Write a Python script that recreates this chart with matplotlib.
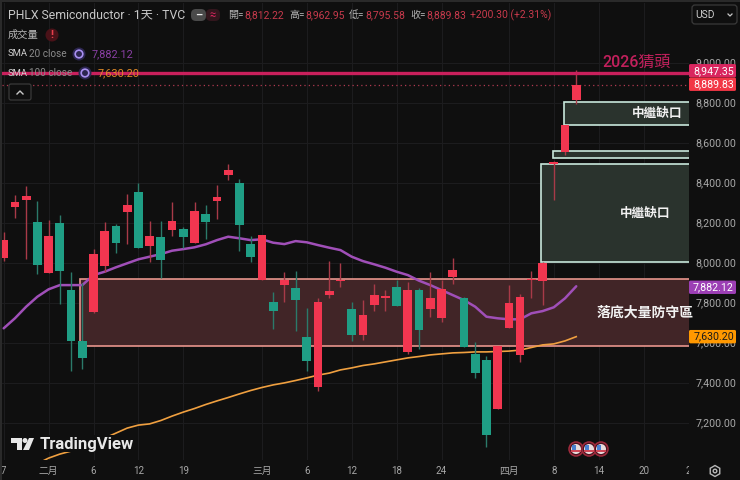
import matplotlib
matplotlib.use("Agg")
import matplotlib.pyplot as plt
from matplotlib.patches import Rectangle, Circle, Polygon, FancyBboxPatch, RegularPolygon
from matplotlib.transforms import Bbox

BG = "#0f0f0f"
UP = "#f23650"
DOWN = "#1f9e85"
GRID = "#1c1c1e"
plt.rcParams["font.family"] = ["Roboto", "Noto Sans CJK TC", "DejaVu Sans"]

# ---------- data ----------
opens = [8021.8, 8280, 8312, 8202, 7947, 8197, 7862, 7610, 7753.5, 7982, 8185, 8255, 8355, 8083.5,
         8130, 8162, 8168.5, 8098, 8243.5, 8307, 8437, 8398.5, 8095, 7913.5, 7802, 7887, 7872, 7627,
         7380, 7838.5, 7910, 7767, 7638.5, 7790, 7822, 7880, 7555, 7862, 7767, 7723.5, 7927, 7822,
         7542, 7513.5, 7270, 7673.5, 7537, 7912, 7910, 8492, 8553.5, 8812.22]
closes = [8113.5, 8305, 8335, 7990, 8132, 7958, 7610, 7523.5, 8045, 8158.5, 8100, 8287, 8075, 8133.5,
          8013.5, 8210, 8127, 8257, 8205, 8327, 8463.5, 8190, 8030, 8137, 7760, 7912, 7815, 7510,
          7805, 7860, 7913.5, 7637, 7738.5, 7840, 7832, 7785, 7862, 7665, 7822, 7868.5, 7963.5, 7580,
          7450, 7137, 7583, 7797, 7830, 7917, 8000, 8505, 8687, 8889.83]
highs = [8155, 8338.5, 8383.5, 8308.5, 8213.5, 8237, 7952, 7897, 8070, 8205, 8193.5, 8343.5, 8397, 8208.5,
         8208.5, 8302, 8177, 8305, 8288.5, 8388.5, 8493.5, 8418.5, 8133.5, 8137, 7852, 7952, 7960, 7772,
         7822, 8010, 7997, 7802, 7813.5, 7892, 7863.5, 7913.5, 7905, 7872, 7952, 7913.5, 8022, 7830,
         7605, 7533.5, 7583, 7888.5, 7842, 7958, 8002, 8508, 8690, 8962.95]
lows = [8008.5, 8222, 8018.5, 7943.5, 7947, 7793.5, 7458.5, 7468.5, 7747, 7955, 8050, 8093.5, 8075, 8005,
        7922, 8133.5, 8072, 8098, 8118.5, 8218.5, 8413.5, 8057, 8005, 7913.5, 7670, 7805, 7658.5, 7460,
        7360, 7825, 7877, 7610, 7613.5, 7760, 7760, 7785, 7543, 7568.5, 7730, 7705, 7893.5, 7580,
        7425, 7080, 7270, 7673.5, 7502, 7822, 7788.5, 8313.5, 8538.5, 8795.58]
sma20 = [7672, 7722, 7780, 7830, 7867, 7888, 7888, 7888, 7938, 7955, 7977, 7997, 8017, 8030, 8043, 8060,
         8068, 8077, 8092, 8113, 8130, 8122, 8113, 8117, 8100, 8093, 8108, 8102, 8088, 8075, 8063, 8030,
         8008, 7992, 7975, 7955, 7938, 7910, 7888, 7863, 7838, 7813, 7780, 7730, 7722, 7717, 7717, 7747,
         7758, 7777, 7822, 7882.12]
sma100_start = 3
sma100 = [6995, 7023, 7043, 7058, 7078, 7103, 7123, 7148, 7173, 7188, 7194, 7211, 7233, 7253, 7271, 7291,
          7309, 7326, 7344, 7361, 7376, 7389, 7399, 7411, 7424, 7438, 7448, 7464, 7474, 7486, 7494, 7504,
          7514, 7524, 7531, 7539, 7544, 7549, 7551, 7554, 7554, 7556, 7558, 7563, 7576, 7589, 7594, 7609,
          7630.20]

y_ticks = [7200, 7400, 7600, 7800, 8000, 8200, 8400, 8600, 8800, 9000]
x_tick_pos = [0, 4, 8, 12, 16, 23, 27, 31, 35, 39, 45, 49, 53, 57, 61]
x_tick_lab = ["7", "二月", "6", "12", "19", "三月", "6", "12", "18", "24", "四月", "8", "14", "20", "2"]

support_zone = (7585, 7917)
gap_zones = [(8003, 8492), (8522, 8557), (8687, 8802)]
zone_starts = [6.81, 47.88, 48.93, 49.87]
resist = 8947.35
last = 8889.83
tags = [(8947.35, "8,947.35", "#d9265f", -2.5), (8889.83, "8,889.83", "#f23645", -0.5),
        (7882.12, "7,882.12", "#9c3fb5", 1), (7630.20, "7,630.20", "#ff9800", 0)]

# ---------- figure ----------
W, H = 740, 480
fig = plt.figure(figsize=(W / 100, H / 100), dpi=100, facecolor=BG)
L, R, T, B = 2, 688.5, 3, 460
ax = fig.add_axes([L / W, 1 - B / H, (R - L) / W, (B - T) / H], facecolor=BG)
ax.set_xlim((L - 3.7) / 11.27, (R - 3.7) / 11.27)
ax.set_ylim(8000 + (262.7 - B) * 5, 8000 + (262.7 - T) * 5)
for s in ax.spines.values():
    s.set_visible(False)
ax.yaxis.tick_right()
ax.set_yticks(y_ticks)
ax.set_yticklabels([f"{v:,.2f}" for v in y_ticks])
ax.set_xticks(x_tick_pos)
ax.set_xticklabels(x_tick_lab)
ax.tick_params(axis="both", length=0, labelcolor="#a8a8a8")
ax.tick_params(axis="y", pad=4.8, labelsize=7.7)
ax.tick_params(axis="x", pad=4.5, labelsize=7.0)
for lab in ax.get_xticklabels():
    lab.set_clip_on(True)
    lab.set_clip_box(Bbox([[0, 0], [688.5, 480]]))
ax.grid(True, color=GRID, lw=0.8, zorder=0)
ax.set_axisbelow(True)

# zones
xmax = ax.get_xlim()[1]
ax.add_patch(Rectangle((zone_starts[0], support_zone[0]), xmax - zone_starts[0] + 1, support_zone[1] - support_zone[0],
                       fc="#412527", ec="#e8958c", lw=1.2, zorder=1))
for (lo, hi), st in zip(gap_zones, zone_starts[1:]):
    ax.add_patch(Rectangle((st, lo), xmax - st + 1, hi - lo, fc="#2a332d", ec="#c8e8dc", lw=1.2, zorder=1))

# lines
xs = list(range(len(sma20)))
ax.plot(xs, sma20, color="#a04fb8", lw=1.8, zorder=3, solid_capstyle="round")
ax.plot(range(sma100_start, sma100_start + len(sma100)), sma100, color="#f0a040", lw=1.2, zorder=3)

# candles
for i, (o, h, l, c) in enumerate(zip(opens, highs, lows, closes)):
    col = UP if c >= o else DOWN
    wick = "#a83a48" if c >= o else "#2b7a6a"
    ax.plot([i, i], [l, h], color=wick, lw=1.0, zorder=4, solid_capstyle="butt")
    ax.add_patch(Rectangle((i - 0.39, min(o, c)), 0.78, abs(c - o), fc=col, ec="none", zorder=5))

# horizontal levels
ax.axhline(resist, color="#c9205c", lw=2.4, zorder=6)
ax.axhline(last, color="#b03a50", lw=0.9, ls=(0, (1, 2.5)), zorder=2)

# overlay in pixel coordinates for chart furniture
ov = fig.add_axes([0, 0, 1, 1], facecolor="none")
ov.set_xlim(0, W)
ov.set_ylim(H, 0)
ov.axis("off")

# edge strips
ov.add_patch(Rectangle((0, 0), 2, 480, fc="#2a2a2a", ec="none"))
ov.add_patch(Rectangle((0, 0), 740, 2, fc="#2a2a2a", ec="none"))

# annotations
ov.text(636.5, 62.3, "2026猜頭", color="#c2205c", fontsize=11.5, fontweight="medium", ha="center", va="center")
ov.text(657, 113.7, "中繼缺口", color="#f2f2f2", fontsize=9.1, fontweight="bold", ha="center", va="center")
ov.text(645.5, 213.3, "中繼缺口", color="#f2f2f2", fontsize=9.1, fontweight="bold", ha="center", va="center")
ov.text(596.5, 313, "落底大量防守區", color="#f2f2f2", fontsize=10, fontweight="bold", ha="left", va="center",
        clip_on=True, clip_box=Bbox([[0, 0], [688.5, 480]]))

# price tags
for v, s, col, dy in tags:
    y = H - ax.transData.transform((0, v))[1] + dy
    ov.add_patch(FancyBboxPatch((689, y - 6.7), 47, 13.4, boxstyle="round,pad=0,rounding_size=1.5", fc=col, ec="none", zorder=8))
    ov.text(713.5, y, s, color="white" if col != "#ff9800" else "#1a1a1a", fontsize=7.7, ha="center", va="center", zorder=9)

# header
ov.text(8, 15, "PHLX Semiconductor · 1天 · TVC", color="#c8c8c8", fontsize=8.8, va="center")
ov.add_patch(FancyBboxPatch((191, 9), 15, 12, boxstyle="round,pad=0,rounding_size=5", fc="#4a4a4a", ec="none"))
ov.add_patch(FancyBboxPatch((206, 9), 14, 12, boxstyle="round,pad=0,rounding_size=5", fc="#33161d", ec="none"))
ov.text(198.5, 15, "–", color="#e8e8e8", fontsize=8, fontweight="bold", ha="center", va="center")
ov.text(213, 15, "≈", color="#d9265f", fontsize=8, ha="center", va="center")
ohlc = [(228, "開=", "8,812.22"), (289, "高=", "8,962.95"), (349, "低=", "8,795.58"), (410, "收=", "8,889.83")]
for x, a, b in ohlc:
    ov.text(x, 15, a, color="#b4b4b4", fontsize=7.2, va="center")
    ov.text(x + 16, 15, b, color="#c83a4c", fontsize=7.5, va="center")
ov.text(470.5, 15, "+200.30 (+2.31%)", color="#c83a4c", fontsize=7.5, va="center")

ov.text(8, 35, "成交量", color="#b8b8b8", fontsize=7.4, va="center")
ov.add_patch(Circle((52, 35), 6.5, fc="#4a1218", ec="none"))
ov.text(52, 35, "!", color="#e8404c", fontsize=8, fontweight="bold", ha="center", va="center")
ov.text(8, 54, "SMA", color="#d0d0d0", fontsize=6.8, va="center")
ov.text(29, 54, "20 close", color="#8c8c8c", fontsize=7.2, va="center")
ov.add_patch(Circle((79, 54), 6.5, fc="#2c2650", ec="none"))
ov.add_patch(Circle((79, 54), 3.8, fc="none", ec="#a88ff0", lw=1.2))
ov.text(92, 54, "7,882.12", color="#8a3fa5", fontsize=7.8, va="center")
ov.text(8, 73, "SMA", color="#d0d0d0", fontsize=6.8, va="center", zorder=7)
ov.text(29, 73, "100 close", color="#8c8c8c", fontsize=7.2, va="center", zorder=7)
ov.add_patch(Circle((85, 73), 6.5, fc="#2c2650", ec="none", zorder=7))
ov.add_patch(Circle((85, 73), 3.8, fc="none", ec="#a88ff0", lw=1.2, zorder=7))
ov.text(98, 73, "7,630.20", color="#e08a28", fontsize=7.8, va="center", zorder=7)

# collapse button
ov.add_patch(FancyBboxPatch((9, 84), 22, 16, boxstyle="round,pad=0,rounding_size=2", fc=BG, ec="#3a3a3a", lw=0.9))
ov.plot([17, 20, 23], [94, 91, 94], color="#c8c8c8", lw=1)

# USD button
ov.add_patch(FancyBboxPatch((692, 5), 45, 19, boxstyle="round,pad=0,rounding_size=3", fc=BG, ec="#3a3a3a", lw=0.9))
ov.text(695, 14.5, "USD", color="#d0d0d0", fontsize=7.4, va="center")
ov.plot([728, 730, 732], [14, 16, 14], color="#c8c8c8", lw=0.9)

# logo
ov.add_patch(Rectangle((9, 435), 128, 17, fc=BG, ec="none", zorder=6))
ov.add_patch(Polygon([(11, 438), (22, 438), (22, 450), (17, 450), (17, 443), (11, 443)], fc="#e8e8e8", ec="none", zorder=7))
ov.add_patch(Circle((25, 440.5), 2.5, fc="#e8e8e8", ec="none", zorder=7))
ov.add_patch(Polygon([(29, 438), (34, 438), (29, 450), (23, 450)], fc="#e8e8e8", ec="none", zorder=7))
ov.text(40, 444.5, "TradingView", color="#e8e8e8", fontsize=12, fontweight="bold", va="center", family="Roboto", zorder=7)

# event flags
for x in (576, 589, 601):
    ov.add_patch(Circle((x, 449), 7, fc="#4a1520", ec="#a02a3c", lw=1.1, zorder=7))
    ov.add_patch(Circle((x, 449), 5, fc="#e8dcdc", ec="none", zorder=8))
    ov.add_patch(Rectangle((x - 5, 450), 10, 1.6, fc="#d04858", ec="none", zorder=9))
    ov.add_patch(Rectangle((x - 4, 445), 4, 4.5, fc="#4a80d0", ec="none", zorder=9))

# settings
ov.add_patch(RegularPolygon((715, 471), 6, radius=5.5, fc="none", ec="#b8b8b8", lw=1))
ov.add_patch(Circle((715, 471), 1.8, fc="none", ec="#b8b8b8", lw=1))

fig.savefig("out.png", dpi=100, facecolor=BG)
